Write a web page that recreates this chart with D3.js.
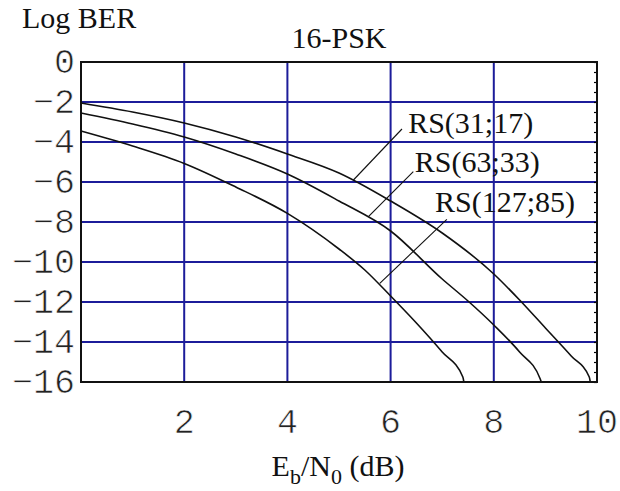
<!DOCTYPE html>
<html>
<head>
<meta charset="utf-8">
<script src="https://cdn.jsdelivr.net/npm/d3@7"></script>
<style>
  body { margin: 0; background: #fff; }
  svg { display: block; }
</style>
</head>
<body>
<div id="chart"></div>
<script>
// curves: Eb/N0 (dB) and log10 BER
const ebno31 = [0, 1, 2, 3, 4, 5, 6, 7, 8, 8.5, 9, 9.5, 9.85, 9.87]
const ber31  = [-2.05, -2.5, -3.05, -3.75, -4.6, -5.55, -6.95, -8.55, -10.6, -11.9, -13.3, -14.7, -15.75, -16]
const ebno63 = [0, 1, 2, 3, 4, 5, 6, 7, 7.5, 8, 8.5, 8.9, 8.92]
const ber63  = [-2.55, -3.1, -3.75, -4.6, -5.6, -6.95, -8.45, -10.85, -11.95, -13.15, -14.5, -15.85, -16]
const ebno127 = [0, 1, 2, 3, 4, 5, 5.5, 6, 6.5, 7, 7.4, 7.42]
const ber127  = [-3.45, -4.2, -5.07, -6.25, -7.57, -9.35, -10.4, -11.7, -13.05, -14.5, -15.75, -16]

const seriesNames = ["RS(31;17)", "RS(63;33)", "RS(127;85)"]
// label anchor and pointer line ends, in data units
const labelAt = [[6.34, -3.55], [6.47, -5.5], [6.86, -7.5]]
const pointerFrom = [[5.28, -5.9], [5.57, -7.73], [5.79, -11.07]]
const pointerTo = [[6.22, -3.35], [6.44, -5.48], [7.09, -7.87]]

const xTicks = [2, 4, 6, 8, 10]
const yTicks = [0, -2, -4, -6, -8, -10, -12, -14, -16]

const series = [
  ebno31.map((v, i) => [v, ber31[i]]),
  ebno63.map((v, i) => [v, ber63[i]]),
  ebno127.map((v, i) => [v, ber127[i]])
]

const margin = { top: 62, right: 23, bottom: 109, left: 81 }
const width = 620 - margin.left - margin.right
const height = 491 - margin.top - margin.bottom

const root = d3.select("#chart").append("svg")
  .attr("width", 620)
  .attr("height", 491)

const svg = root.append("g")
  .attr("transform", `translate(${margin.left},${margin.top})`)

const x = d3.scaleLinear().domain([0, 10]).range([0, width])
const y = d3.scaleLinear().domain([-16, 0]).range([height, 0])

const serif = "'Liberation Serif', 'Times New Roman', serif"
const mono = "'Liberation Mono', 'Courier New', monospace"
const gridBlue = "#1c1c9a"

// grid
svg.selectAll("line.vgrid")
  .data(xTicks.filter(d => d > 0 && d < 10))
  .join("line")
    .attr("x1", d => x(d)).attr("x2", d => x(d))
    .attr("y1", 0).attr("y2", height)
    .attr("stroke", gridBlue).attr("stroke-width", 2)

svg.selectAll("line.hgrid")
  .data(yTicks.filter(d => d < 0 && d > -16))
  .join("line")
    .attr("x1", 0).attr("x2", width)
    .attr("y1", d => y(d)).attr("y2", d => y(d))
    .attr("stroke", gridBlue).attr("stroke-width", 2)

// minor ticks on the right edge
svg.append("g")
  .attr("transform", `translate(${width},0)`)
  .call(d3.axisLeft(y).ticks(40).tickSize(3).tickFormat(""))
  .call(g => g.select(".domain").remove())
  .selectAll("line").attr("stroke", "#000").attr("stroke-width", 1.2)

// curves
const line = d3.line()
  .x(d => x(d[0]))
  .y(d => y(d[1]))
  .curve(d3.curveMonotoneX)

svg.selectAll("path.curve")
  .data(series)
  .join("path")
    .attr("d", line)
    .attr("fill", "none")
    .attr("stroke", "#111")
    .attr("stroke-width", 1.6)

// pointers and labels
svg.selectAll("line.pointer")
  .data(seriesNames)
  .join("line")
    .attr("x1", (d, i) => x(pointerFrom[i][0]))
    .attr("y1", (d, i) => y(pointerFrom[i][1]))
    .attr("x2", (d, i) => x(pointerTo[i][0]))
    .attr("y2", (d, i) => y(pointerTo[i][1]))
    .attr("stroke", "#111")
    .attr("stroke-width", 1.1)

svg.selectAll("text.label")
  .data(seriesNames)
  .join("text")
    .attr("x", (d, i) => x(labelAt[i][0]))
    .attr("y", (d, i) => y(labelAt[i][1]))
    .attr("font-family", serif)
    .attr("font-size", 30)
    .attr("fill", "#111")
    .text(d => d)

// frame
svg.append("rect")
  .attr("width", width).attr("height", height)
  .attr("fill", "none")
  .attr("stroke", "#111").attr("stroke-width", 2)

// tick labels (thin strokes like the original)
svg.selectAll("text.ytick")
  .data(yTicks)
  .join("text")
    .attr("x", -6)
    .attr("y", d => y(d))
    .attr("dy", 11)
    .attr("text-anchor", "end")
    .attr("font-family", mono)
    .attr("font-size", 35)
    .attr("fill", "#222")
    .attr("stroke", "#fff").attr("stroke-width", 0.7)
    .text(d => d < 0 ? "\u2212" + Math.abs(d) : d)

svg.selectAll("text.xtick")
  .data(xTicks)
  .join("text")
    .attr("x", d => x(d))
    .attr("y", height + 51)
    .attr("text-anchor", "middle")
    .attr("font-family", mono)
    .attr("font-size", 35)
    .attr("fill", "#222")
    .attr("stroke", "#fff").attr("stroke-width", 0.7)
    .text(d => d)

// titles
root.append("text")
  .attr("x", 22).attr("y", 28)
  .attr("font-family", serif).attr("font-size", 30).attr("fill", "#111")
  .text("Log BER")

root.append("text")
  .attr("x", 339).attr("y", 48)
  .attr("text-anchor", "middle")
  .attr("font-family", serif).attr("font-size", 30).attr("fill", "#111")
  .text("16-PSK")

const xl = root.append("text")
  .attr("x", 338).attr("y", 476)
  .attr("text-anchor", "middle")
  .attr("font-family", serif).attr("font-size", 30).attr("fill", "#111")
xl.append("tspan").text("E")
xl.append("tspan").attr("font-size", 22).attr("dy", 8).text("b")
xl.append("tspan").attr("dy", -8).text("/N")
xl.append("tspan").attr("font-size", 22).attr("dy", 8).text("0")
xl.append("tspan").attr("dy", -8).text(" (dB)")
</script>
</body>
</html>
